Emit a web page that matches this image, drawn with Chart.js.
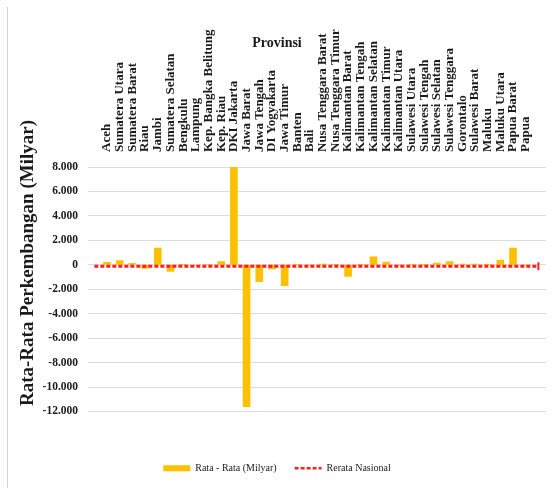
<!DOCTYPE html>
<html>
<head>
<meta charset="utf-8">
<script src="https://cdn.jsdelivr.net/npm/chart.js@4.4.1/dist/chart.umd.min.js"></script>
<style>
  html, body { margin: 0; padding: 0; background: #ffffff; }
  #wrap { position: relative; width: 555px; height: 488px; overflow: hidden; }
  #frame { position: absolute; left: 7px; top: 7px; bottom: 0; border-left: 1px solid #d3d3d3; }
  #c { position: absolute; left: 0; top: 0; }
</style>
</head>
<body>
<div id="wrap">
  <div id="frame"></div>
  <canvas id="c" width="555" height="488"></canvas>
</div>
<script>
// Provinces along the category axis
const provinces = [
  'Aceh', 'Sumatera Utara', 'Sumatera Barat', 'Riau', 'Jambi', 'Sumatera Selatan',
  'Bengkulu', 'Lampung', 'Kep. Bangka Belitung', 'Kep. Riau', 'DKI Jakarta',
  'Jawa Barat', 'Jawa Tengah', 'DI Yogyakarta', 'Jawa Timur', 'Banten', 'Bali',
  'Nusa Tenggara Barat', 'Nusa Tenggara Timur', 'Kalimantan Barat', 'Kalimantan Tengah',
  'Kalimantan Selatan', 'Kalimantan Timur', 'Kalimantan Utara', 'Sulawesi Utara',
  'Sulawesi Tengah', 'Sulawesi Selatan', 'Sulawesi Tenggara', 'Gorontalo',
  'Sulawesi Barat', 'Maluku', 'Maluku Utara', 'Papua Barat', 'Papua'
];

// Average development per province (Milyar)
const rataRata = [
  200, 350, 130, -300, 1370, -550,
  20, -40, 30, 260, 7980,
  -11600, -1380, -330, -1700, 40, -30,
  60, 20, -950, 30,
  650, 220, -20, 40,
  20, 140, 260, 60,
  60, 20, 380, 1370, -30
];

// National average (Milyar)
const rerataNasional = -120;

// Value axis tick values
const yTickValues = [8000, 6000, 4000, 2000, 0, -2000, -4000, -6000, -8000, -10000, -12000];

const serif = '"Liberation Serif", "Times New Roman", serif';
const barColor = '#FFC000';
const lineColor = '#ff1f1f';
const textColor = '#1a1a1a';
const catFontSize = 13;

function formatID(v) {
  const s = Math.abs(v).toString().replace(/\B(?=(\d{3})+(?!\d))/g, '.');
  return (v < 0 ? '-' : '') + s;
}

// Axis titles drawn at fixed spots around the plot area
const axisTitles = {
  id: 'axisTitles',
  afterDraw(chart) {
    const { ctx, chartArea } = chart;
    ctx.save();
    ctx.fillStyle = textColor;
    ctx.textAlign = 'center';
    ctx.textBaseline = 'middle';
    ctx.font = 'bold 14px ' + serif;
    ctx.fillText('Provinsi', chartArea.left + 189, chartArea.top - 124);
    ctx.translate(chartArea.left - 60, chartArea.top + 96);
    ctx.rotate(-Math.PI / 2);
    ctx.font = 'bold 19px ' + serif;
    ctx.fillText('Rata-Rata Perkembangan (Milyar)', 0, 0);
    ctx.restore();
  }
};

new Chart(document.getElementById('c'), {
  type: 'bar',
  data: {
    datasets: [
      {
        type: 'bar',
        label: 'Rata - Rata (Milyar)',
        data: provinces.map((p, i) => ({ x: i, y: rataRata[i] })),
        backgroundColor: barColor,
        borderWidth: 0,
        barThickness: 7,
        order: 1
      },
      {
        type: 'line',
        label: 'Rerata Nasional',
        data: [{ x: -1, y: rerataNasional }, { x: provinces.length, y: rerataNasional }],
        borderColor: lineColor,
        borderWidth: 2.8,
        borderDash: [4, 2],
        fill: false,
        pointRadius: [0, 4],
        pointStyle: 'line',
        pointRotation: 90,
        pointBorderWidth: 2,
        pointBorderColor: lineColor,
        pointBackgroundColor: lineColor,
        order: 0
      }
    ]
  },
  options: {
    responsive: false,
    animation: false,
    devicePixelRatio: 1,
    layout: { padding: { left: 8, right: 9, top: 10, bottom: 4.75 } },
    scales: {
      x: {
        type: 'linear',
        position: 'top',
        min: -1.5,
        max: 34.6,
        offset: false,
        grid: { display: false, drawTicks: false },
        border: { display: false },
        afterBuildTicks: (s) => { s.ticks = provinces.map((p, i) => ({ value: i })); },
        afterFit: (s) => { s.height = 157; },
        ticks: {
          autoSkip: false,
          minRotation: 90,
          maxRotation: 90,
          padding: 15,
          labelOffset: catFontSize * 1.2,
          color: textColor,
          font: { family: serif, size: catFontSize, weight: 'bold' },
          callback: (v) => provinces[v] !== undefined ? provinces[v] : ''
        }
      },
      y: {
        type: 'linear',
        min: -12000,
        max: 8000,
        afterBuildTicks: (s) => { s.ticks = yTickValues.map(v => ({ value: v })); },
        afterFit: (s) => { s.width = 80; },
        grid: { color: '#dcdcdc', lineWidth: 1, drawTicks: false },
        border: { display: false },
        ticks: {
          padding: 10,
          color: textColor,
          font: { family: serif, size: 11.5, weight: 'bold' },
          callback: (v) => formatID(v)
        }
      }
    },
    plugins: {
      tooltip: { enabled: false },
      title: { display: false },
      legend: {
        position: 'bottom',
        title: { display: true, text: '', padding: { top: 21.75, bottom: 0 }, font: { size: 10 } },
        labels: {
          usePointStyle: true,
          pointStyleWidth: 27,
          boxHeight: 6,
          padding: 18,
          color: textColor,
          font: { family: serif, size: 10 },
          generateLabels: (chart) => {
            const ds = chart.data.datasets;
            return [
              { text: ds[0].label, fillStyle: barColor, strokeStyle: barColor, lineWidth: 0,
                pointStyle: 'rect', datasetIndex: 0, hidden: false, fontColor: textColor },
              { text: ds[1].label, fillStyle: lineColor, strokeStyle: lineColor, lineWidth: 2.5,
                lineDash: [4, 2], pointStyle: 'line', datasetIndex: 1, hidden: false, fontColor: textColor }
            ];
          }
        }
      }
    }
  },
  plugins: [axisTitles]
});
</script>
</body>
</html>
